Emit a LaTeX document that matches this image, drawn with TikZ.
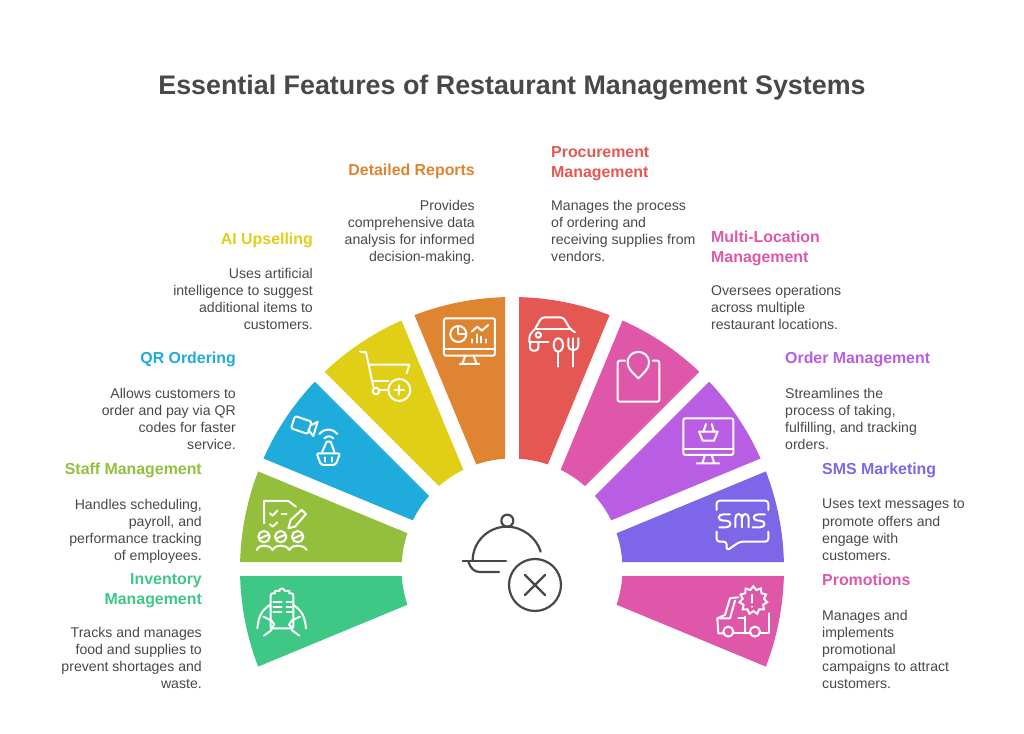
\documentclass[tikz,border=0pt]{standalone}
\usepackage{fontspec}
\setmainfont{Liberation Sans}
\usetikzlibrary{shapes.geometric}

\definecolor{invcol}{HTML}{3EC785}
\definecolor{staffcol}{HTML}{93BF3C}
\definecolor{qrcol}{HTML}{1FABDB}
\definecolor{aicol}{HTML}{E0CE17}
\definecolor{repcol}{HTML}{DF8431}
\definecolor{proccol}{HTML}{E55753}
\definecolor{multicol}{HTML}{DF57A8}
\definecolor{ordcol}{HTML}{B95DE3}
\definecolor{smscol}{HTML}{7E66E8}
\definecolor{promocol}{HTML}{DF57A8}
\definecolor{inkcol}{HTML}{484848}

\tikzset{
    headleft/.style={anchor=north west, align=left, inner sep=0pt, execute at begin node=\strut,
        font=\fontsize{15.9}{20}\selectfont\bfseries},
    headright/.style={headleft, anchor=north east, align=right},
    bodyleft/.style={anchor=north west, align=left, inner sep=0pt, execute at begin node=\strut,
        text=inkcol, font=\fontsize{14.1}{17.1}\selectfont},
    bodyright/.style={bodyleft, anchor=north east, align=right},
    icon/.style={draw=white, line width=2pt, line cap=round, line join=round},
    dishline/.style={draw=inkcol, line width=2.2pt, line cap=round, line join=round},
}

\newcommand{\fanseg}[3]{
    \fill[#1] ({#2-1.475}:272) arc[start angle=#2-1.475, end angle=#3+1.475, radius=272]
        -- ({#3+3.63}:110.5) arc[start angle=#3+3.63, end angle=#2-3.63, radius=110.5] -- cycle;
}

\begin{document}
\begin{tikzpicture}[x=1pt, y=-1pt]

    \useasboundingbox (0,0) rectangle (1024,733);

    \node[text=inkcol, font=\fontsize{26.85}{32}\selectfont\bfseries] (title) at (512,88)
    {Essential Features of Restaurant Management Systems};

    \begin{scope}[shift={(512,569)}, y=1pt]
        \fanseg{invcol}{202.5}{180}
        \fanseg{staffcol}{180}{157.5}
        \fanseg{qrcol}{157.5}{135}
        \fanseg{aicol}{135}{112.5}
        \fanseg{repcol}{112.5}{90}
        \fanseg{proccol}{90}{67.5}
        \fanseg{multicol}{67.5}{45}
        \fanseg{ordcol}{45}{22.5}
        \fanseg{smscol}{22.5}{0}
        \fanseg{promocol}{0}{-22.5}
    \end{scope}

    \node[headright, text=repcol] (rephead) at (475,161) {Detailed Reports};
    \node[bodyright] (repbody) at (475,200)
    {Provides\\comprehensive data\\analysis for informed\\decision-making.};

    \node[headleft, text=proccol] (prochead) at (551,146) {Procurement\\Management};
    \node[bodyleft] (procbody) at (551,200)
    {Manages the process\\of ordering and\\receiving supplies from\\vendors.};

    \node[headright, text=aicol] (aihead) at (313,230) {AI Upselling};
    \node[bodyright] (aibody) at (313,268)
    {Uses artificial\\intelligence to suggest\\additional items to\\customers.};

    \node[headleft, text=multicol] (multihead) at (711,231) {Multi-Location\\Management};
    \node[bodyleft] (multibody) at (711,285)
    {Oversees operations\\across multiple\\restaurant locations.};

    \node[headright, text=qrcol] (qrhead) at (236,349) {QR Ordering};
    \node[bodyright] (qrbody) at (236,388)
    {Allows customers to\\order and pay via QR\\codes for faster\\service.};

    \node[headleft, text=ordcol] (ordhead) at (785,349) {Order Management};
    \node[bodyleft] (ordbody) at (785,388)
    {Streamlines the\\process of taking,\\fulfilling, and tracking\\orders.};

    \node[headright, text=staffcol] (staffhead) at (202,460) {Staff Management};
    \node[bodyright] (staffbody) at (202,499)
    {Handles scheduling,\\payroll, and\\performance tracking\\of employees.};

    \node[headleft, text=smscol] (smshead) at (822,460) {SMS Marketing};
    \node[bodyleft] (smsbody) at (822,499)
    {Uses text messages to\\promote offers and\\engage with\\customers.};

    \node[headright, text=invcol] (invhead) at (202,573) {Inventory\\Management};
    \node[bodyright] (invbody) at (202,627)
    {Tracks and manages\\food and supplies to\\prevent shortages and\\waste.};

    \node[headleft, text=promocol] (promohead) at (822,571) {Promotions};
    \node[bodyleft] (promobody) at (822,610)
    {Manages and\\implements\\promotional\\campaigns to attract\\customers.};

    \begin{scope}[shift={(230,290)}, x=0.3333pt, y=-0.3333pt]
        \draw[icon, rounded corners=2pt] (642,85) rectangle (795,197);
        \draw[icon] (642,178) -- (795,178);
        \draw[icon] (706,197) -- (697,222) (731,197) -- (740,222) (690,222) -- (748,222);
        \draw[icon] (685,132) circle[radius=24];
        \draw[icon] (685,112) -- (685,132) -- (707,132);
        \draw[icon] (725,125) -- (742,110) -- (755,122) -- (775,105);
        \draw[icon] (727,158) -- (727,148) (740,158) -- (740,133) (753,158) -- (753,140) (767,158) -- (767,148);

        \draw[icon] (390,185) -- (408,187) -- (430,290);
        \draw[icon] (417,224) -- (538,224) -- (530,250);
        \draw[icon] (426,272) -- (475,272);
        \draw[icon] (438,303) circle[radius=10];
        \draw[icon] (449,301) -- (470,301);
        \draw[icon] (508,300) circle[radius=33];
        \draw[icon] (494,300) -- (522,300) (508,286) -- (508,314);

        \draw[icon, rounded corners=2pt] (195,378) -- (245,395) -- (233,432) -- (183,415) -- cycle;
        \draw[icon] (245,405) -- (263,395) -- (250,438) -- (235,420);
        \draw[icon] (268,432) .. controls (285,414) and (305,414) .. (322,432);
        \draw[icon] (283,445) .. controls (292,437) and (301,437) .. (310,445);
        \draw[icon] (277,485) -- (290,455) -- (302,455) -- (313,485);
        \draw[icon, rounded corners=2pt] (260,490) -- (330,490) -- (317,525) -- (273,525) -- cycle;
        \draw[icon] (285,502) -- (285,515) (305,502) -- (305,515);

        \draw[icon] (102,700) -- (102,633) -- (175,633) -- (198,650);
        \draw[icon] (120,670) -- (128,677) -- (142,662);
        \draw[icon] (155,673) -- (170,673);
        \draw[icon] (120,703) -- (128,710) -- (142,697);
        \draw[icon] (175,715) -- (182,690) -- (215,660) -- (228,672) -- (195,710) -- cycle;
        \draw[icon] (102,740) circle[radius=17] (152,740) circle[radius=17] (203,740) circle[radius=17];
        \draw[icon] (90,745) -- (114,735) (140,745) -- (164,735) (191,745) -- (215,735);
        \draw[icon] (80,780) .. controls (85,770) and (92,767) .. (102,767)
            .. controls (112,767) and (122,770) .. (128,780)
            .. controls (134,770) and (142,767) .. (152,767)
            .. controls (162,767) and (172,770) .. (178,780)
            .. controls (184,770) and (193,767) .. (203,767)
            .. controls (213,767) and (224,770) .. (230,780);

        \draw[icon, rounded corners=2pt] (135,910) -- (122,910) -- (122,1015) -- (190,1015) -- (190,910) -- (178,910);
        \draw[icon] (135,910) -- (135,903) -- (148,903) .. controls (150,893) and (160,893) .. (165,903) -- (178,903) -- (178,910);
        \draw[icon] (130,935) -- (155,935) (170,935) -- (185,935);
        \draw[icon] (130,950) -- (155,950) (170,950) -- (185,950);
        \draw[icon] (130,965) -- (155,965) (170,965) -- (185,965);
        \draw[icon] (82,1015) .. controls (85,985) and (92,962) .. (120,945);
        \draw[icon] (100,980) -- (125,992) -- (133,1004) -- (122,1015);
        \draw[icon] (102,1037) -- (125,1020);
        \draw[icon] (228,1015) .. controls (225,985) and (218,962) .. (190,945);
        \draw[icon] (210,980) -- (185,992) -- (177,1004) -- (188,1015);
        \draw[icon] (208,1037) -- (185,1020);
    \end{scope}

    \begin{scope}[shift={(510,290)}, x=0.3333pt, y=-0.3333pt]
        \draw[icon, rounded corners=3pt] (75,117) -- (95,82) -- (160,82) -- (180,117) -- (195,127);
        \draw[icon, rounded corners=3pt] (75,117) -- (180,117);
        \draw[icon, rounded corners=3pt] (75,117) -- (58,135) -- (58,155);
        \draw[icon] (85,135) circle[radius=8];
        \draw[icon] (58,155) -- (115,155);
        \draw[icon, rounded corners=3pt] (60,155) -- (60,182) -- (85,182) -- (85,157);
        \draw[icon] (145,165) ellipse[x radius=14, y radius=20];
        \draw[icon] (145,185) -- (145,230);
        \draw[icon] (190,145) -- (190,230);
        \draw[icon] (175,145) -- (175,165) .. controls (175,186) and (205,186) .. (205,165) -- (205,145);

        \draw[icon, rounded corners=2pt] (345,212) -- (323,212) -- (323,335) -- (448,335) -- (448,212) -- (428,212);
        \draw[icon] (385,265) .. controls (365,245) and (353,235) .. (353,218)
            .. controls (353,175) and (417,175) .. (417,218)
            .. controls (417,235) and (405,245) .. (385,265);

        \draw[icon, rounded corners=2pt] (520,385) rectangle (670,495);
        \draw[icon] (520,478) -- (670,478);
        \draw[icon] (585,495) -- (577,520) (605,495) -- (613,520) (560,520) -- (628,520);
        \draw[icon] (580,425) -- (588,402) (605,402) -- (612,425);
        \draw[icon] (567,425) -- (623,425) -- (612,452) -- (578,452) -- cycle;

        \draw[icon, rounded corners=3pt] (620,660) -- (620,632) -- (775,632) -- (775,660);
        \draw[icon, rounded corners=3pt] (620,725) -- (620,755) -- (650,755) -- (650,782) -- (690,755) -- (775,755) -- (775,725);
        \draw[icon] (660,673) -- (640,673) .. controls (622,673) and (622,692) .. (640,692) -- (648,692)
            .. controls (666,692) and (666,712) .. (648,712) -- (628,712);
        \draw[icon] (676,712) -- (676,685) .. controls (676,668) and (696,668) .. (696,685) -- (696,712)
            (696,685) .. controls (696,668) and (716,668) .. (716,685) -- (716,712);
        \draw[icon] (765,673) -- (745,673) .. controls (727,673) and (727,692) .. (745,692) -- (750,692)
            .. controls (768,692) and (768,712) .. (750,712) -- (728,712);

        \node[draw=white, line width=2pt, star, star points=11, star point ratio=1.3,
            minimum size=28pt, inner sep=0pt] (promobadge) at (730,931) {};
        \draw[icon] (727,915) -- (727,938) (727,950) -- (727,951);
        \draw[icon] (778,970) -- (778,1030) -- (752,1030);
        \draw[icon] (640,1030) -- (625,1030) -- (622,985) -- (645,975) -- (660,925) -- (685,922);
        \draw[icon] (675,932) -- (660,985) -- (622,985);
        \draw[icon] (670,1030) -- (720,1030);
        \draw[icon] (705,980) -- (705,1030) (685,985) -- (700,985);
        \draw[icon] (655,1025) circle[radius=15] (735,1025) circle[radius=15];
    \end{scope}

    \begin{scope}[shift={(450,500)}, x=0.3333pt, y=-0.3333pt]
        \draw[dishline] (172,62) circle[radius=18];
        \draw[dishline] (68,182) .. controls (68,125) and (115,80) .. (170,80) .. controls (220,80) and (260,115) .. (272,155);
        \draw[dishline] (38,183) -- (168,183);
        \draw[dishline] (55,185) .. controls (62,205) and (72,216) .. (90,216) -- (147,216);
        \draw[dishline] (255,255) circle[radius=78];
        \draw[dishline] (225,225) -- (285,285) (285,225) -- (225,285);
    \end{scope}

\end{tikzpicture}
\end{document}
